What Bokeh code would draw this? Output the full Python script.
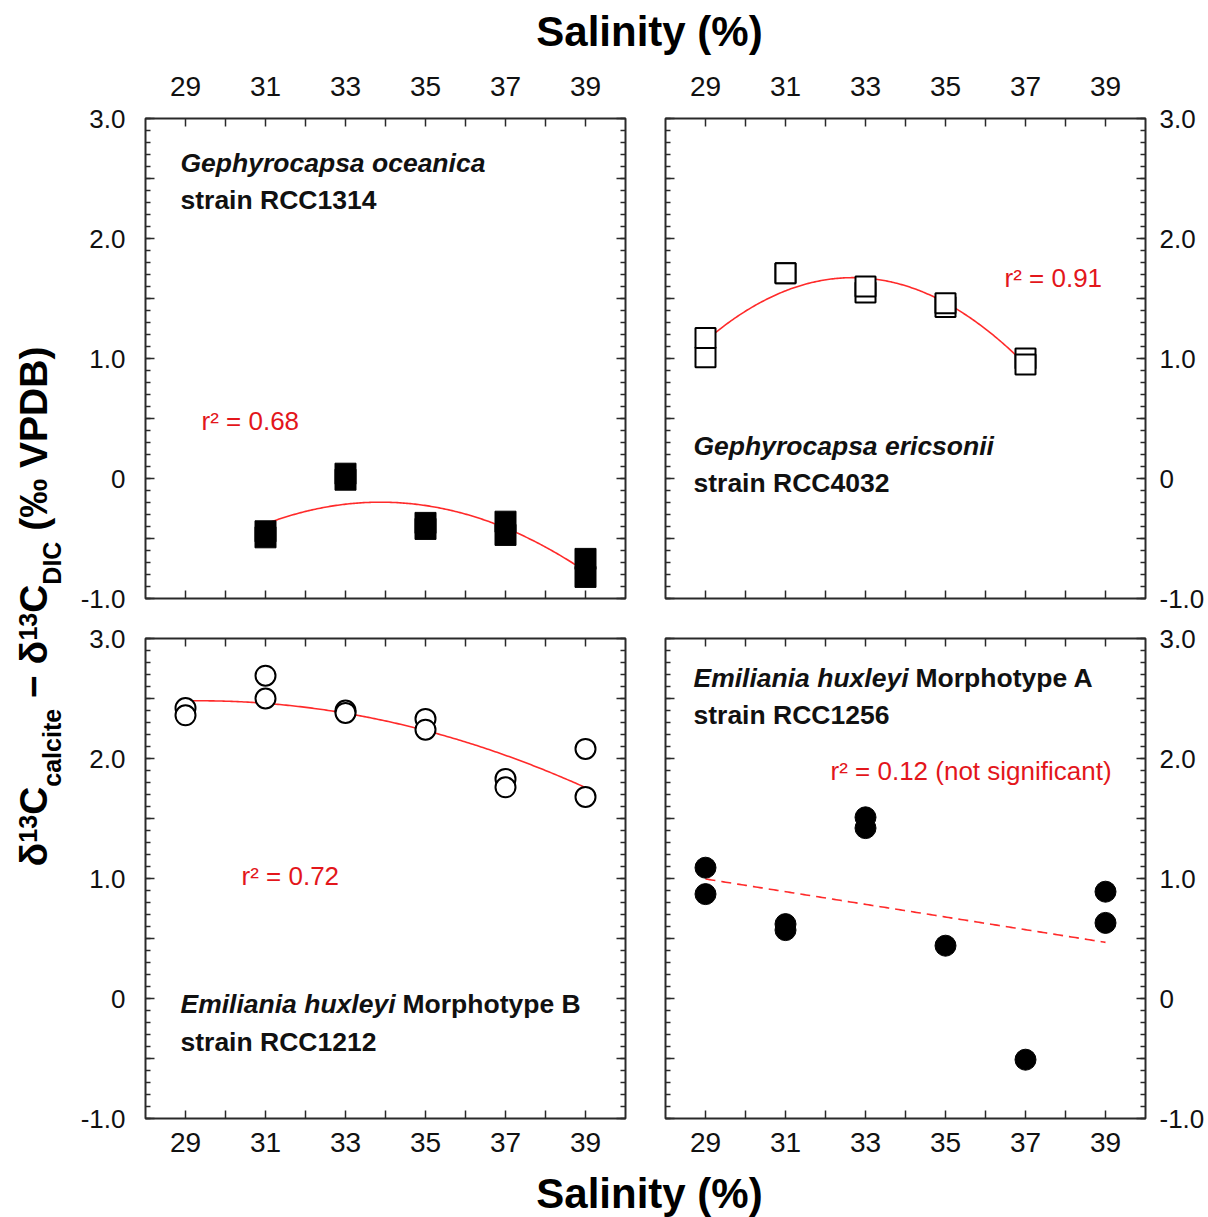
import numpy as np
from bokeh.plotting import figure
from bokeh.layouts import row, column
from bokeh.models import LinearAxis, FixedTicker, Range1d
from bokeh.core.properties import value
from bokeh.embed import file_html
from bokeh.resources import INLINE

FONT = "Liberation Sans"
AX = "#2a2a2a"
RED_LINE = "#ff2a2a"
RED_TEXT = "#e3161b"

# ---------------- data ----------------
# Gephyrocapsa oceanica RCC1314 (filled squares)
tl_x = [31, 31, 33, 33, 35, 35, 37, 37, 39, 39]
tl_y = [-0.44, -0.49, 0.04, -0.01, -0.37, -0.42, -0.36, -0.47, -0.67, -0.82]
# Gephyrocapsa ericsonii RCC4032 (open squares)
tr_x = [29, 29, 31, 31, 33, 33, 35, 35, 37, 37]
tr_y = [1.01, 1.17, 1.71, 1.71, 1.55, 1.60, 1.43, 1.46, 1.00, 0.95]
# Emiliania huxleyi Morphotype B RCC1212 (open circles)
bl_x = [29, 29, 31, 31, 33, 33, 35, 35, 37, 37, 39, 39]
bl_y = [2.42, 2.36, 2.69, 2.50, 2.40, 2.38, 2.33, 2.24, 1.83, 1.76, 2.08, 1.68]
# Emiliania huxleyi Morphotype A RCC1256 (filled circles)
br_x = [29, 29, 31, 31, 33, 33, 35, 37, 39, 39]
br_y = [1.09, 0.87, 0.62, 0.57, 1.51, 1.42, 0.44, -0.51, 0.89, 0.63]

r2_labels = ["r\u00b2 = 0.68", "r\u00b2 = 0.91", "r\u00b2 = 0.72", "r\u00b2 = 0.12 (not significant)"]

x_ticks = [29, 30, 31, 32, 33, 34, 35, 36, 37, 38, 39]
x_tick_labels = {29: "29", 30: "", 31: "31", 32: "", 33: "33", 34: "", 35: "35",
                 36: "", 37: "37", 38: "", 39: "39"}
y_major_ticks = [-1.0, -0.5, 0.0, 0.5, 1.0, 1.5, 2.0, 2.5, 3.0]
y_tick_labels = {-1.0: "-1.0", -0.5: "", 0.0: "0", 0.5: "", 1.0: "1.0", 1.5: "",
                 2.0: "2.0", 2.5: "", 3.0: "3.0"}
y_minor_ticks = [round(-1.0 + 0.1 * i, 1) for i in range(41)]

x_title = "Salinity (%)"


def add_axis(p, side, kind, labeled, standoff=0):
    ax = LinearAxis()
    if kind == "x":
        ax.ticker = FixedTicker(ticks=x_ticks)
        ax.major_tick_in = 8
    else:
        ax.ticker = FixedTicker(ticks=y_major_ticks, minor_ticks=y_minor_ticks)
        ax.major_tick_in = 9
        ax.minor_tick_in = 5
        ax.minor_tick_out = 0
        ax.minor_tick_line_color = AX
        ax.minor_tick_line_width = 1.5
    ax.major_tick_out = 0
    ax.major_tick_line_color = AX
    ax.major_tick_line_width = 1.5
    ax.axis_line_color = None
    if labeled:
        ax.major_label_overrides = x_tick_labels if kind == "x" else y_tick_labels
        ax.major_label_text_font = FONT
        ax.major_label_text_font_size = "28px" if kind == "x" else "26px"
        ax.major_label_text_color = "#111111"
        ax.major_label_standoff = standoff
    else:
        ax.major_label_overrides = {t: "" for t in (x_ticks if kind == "x" else y_major_ticks)}
        ax.major_label_text_font_size = "0px"
        ax.major_label_standoff = 0
    p.add_layout(ax, side)


def panel(xs, ys, marker, filled, deg, dashed, borders, labeled_sides):
    p = figure(frame_width=480, frame_height=480,
               x_range=Range1d(28, 40), y_range=Range1d(-1, 3),
               x_axis_location=None, y_axis_location=None, title_location=None,
               toolbar_location=None, output_backend="svg",
               min_border_left=borders[0], min_border_right=borders[1],
               min_border_top=borders[2], min_border_bottom=borders[3])
    p.grid.visible = False
    p.outline_line_color = AX
    p.outline_line_width = 2
    p.background_fill_color = "white"
    p.border_fill_color = "white"

    add_axis(p, "left", "y", "left" in labeled_sides, 20)
    add_axis(p, "right", "y", "right" in labeled_sides, 14)
    add_axis(p, "above", "x", "above" in labeled_sides, 23)
    add_axis(p, "below", "x", "below" in labeled_sides, 14)

    coef = np.polyfit(xs, ys, deg)
    xf = np.linspace(min(xs), max(xs), 200)
    yf = np.polyval(coef, xf)
    p.line(xf, yf, line_color=RED_LINE, line_width=1.6,
           line_dash="10 6" if dashed else "solid")

    if filled:
        p.scatter(xs, ys, marker=marker, size=21, fill_color="black",
                  line_color="black", line_width=1)
    else:
        p.scatter(xs, ys, marker=marker, size=20, fill_color="white",
                  line_color="black", line_width=2)
    return p


SP = 26.5


def species(p, x, y1, y2, italic, extra, extra_off, strain):
    common = dict(text_font=value(FONT), text_font_size=f"{SP}px",
                  text_baseline="middle", text_align="left", text_color="#111111")
    p.text(x=[x], y=[y1], text=[italic], text_font_style="bold italic", **common)
    if extra:
        p.text(x=[x], y=[y1], text=[extra], x_offset=extra_off, text_font_style="bold", **common)
    p.text(x=[x], y=[y2], text=[strain], text_font_style="bold", **common)


def r2(p, x, y, s):
    p.text(x=[x], y=[y], text=[s], text_font=value(FONT), text_font_size="26px",
           text_baseline="middle", text_align="left", text_color=RED_TEXT)


# page: x 0..1208, y 0..1217 ; panels' frames at x 145..625 / 665..1145, y 118..598 / 638..1118
tl = panel(tl_x, tl_y, "square", True, 2, False, (77, 20, 58, 20), ("left", "above"))
tr = panel(tr_x, tr_y, "square", False, 2, False, (20, 63, 58, 20), ("right", "above"))
bl = panel(bl_x, bl_y, "circle", False, 2, False, (77, 20, 20, 48), ("left", "below"))
br = panel(br_x, br_y, "circle", True, 1, True, (20, 63, 20, 48), ("right", "below"))

species(tl, 28.875, 2.63, 2.32, "Gephyrocapsa oceanica", None, 0, "strain RCC1314")
species(tr, 28.70, 0.27, -0.04, "Gephyrocapsa ericsonii", None, 0, "strain RCC4032")
species(bl, 28.875, -0.045, -0.36, "Emiliania huxleyi", "Morphotype B", 222, "strain RCC1212")
species(br, 28.70, 2.67, 2.365, "Emiliania huxleyi", "Morphotype A", 222, "strain RCC1256")

r2(tl, 29.40, 0.48, r2_labels[0])
r2(tr, 36.475, 1.67, r2_labels[1])
r2(bl, 30.40, 1.02, r2_labels[2])
r2(br, 32.125, 1.895, r2_labels[3])


def blank(w, h):
    f = figure(width=w, height=h, x_range=Range1d(0, w), y_range=Range1d(0, h),
               x_axis_location=None, y_axis_location=None, title_location=None,
               min_border=0, toolbar_location=None, output_backend="svg")
    f.grid.visible = False
    f.outline_line_color = None
    f.background_fill_color = "white"
    f.border_fill_color = "white"
    return f


# top title (page y 0..60)
top = blank(1208, 60)
top.text(x=[649], y=[29.5], text=[x_title], text_font=value(FONT), text_font_size="42px",
         text_font_style="bold", text_align="center", text_baseline="middle",
         text_color="#000000")

# bottom title (page y 1166..1217)
bot = blank(1208, 51)
bot.text(x=[649], y=[24], text=[x_title], text_font=value(FONT), text_font_size="42px",
         text_font_style="bold", text_align="center", text_baseline="middle",
         text_color="#000000")

# y label (page x 0..68, page y 60..1166)
YH = 1106
ylab = blank(68, YH)
F_MAIN, F_SMALL = 39, 25
segs = [("\u03b4", "main", 0.611), ("13", "sup", 1.112), ("C", "main", 0.722),
        ("calcite", "sub", 3.113), (None, "main", 0.278), ("\u2212", "main", 0.584),
        (None, "main", 0.278), ("\u03b4", "main", 0.611), ("13", "sup", 1.112),
        ("C", "main", 0.722), ("DIC", "sub", 1.722), (None, "main", 0.278),
        ("(\u2030", "main", 1.333), (None, "main", 0.278), ("VPDB)", "main", 3.111)]
mid_x = {"main": 33, "sup": 27, "sub": 51}
pos = 1166 - 866
for txt, kind, em in segs:
    size = F_MAIN if kind == "main" else F_SMALL
    if txt is not None:
        ylab.text(x=[mid_x[kind]], y=[pos], text=[txt], angle=np.pi / 2,
                  text_font=value(FONT), text_font_size=f"{size}px", text_font_style="bold",
                  text_align="left", text_baseline="middle", text_color="#000000")
    pos += em * size

layout = column(top, row(ylab, column(row(tl, tr), row(bl, br))), bot)
open("out.html", "w").write(file_html(layout, INLINE))
